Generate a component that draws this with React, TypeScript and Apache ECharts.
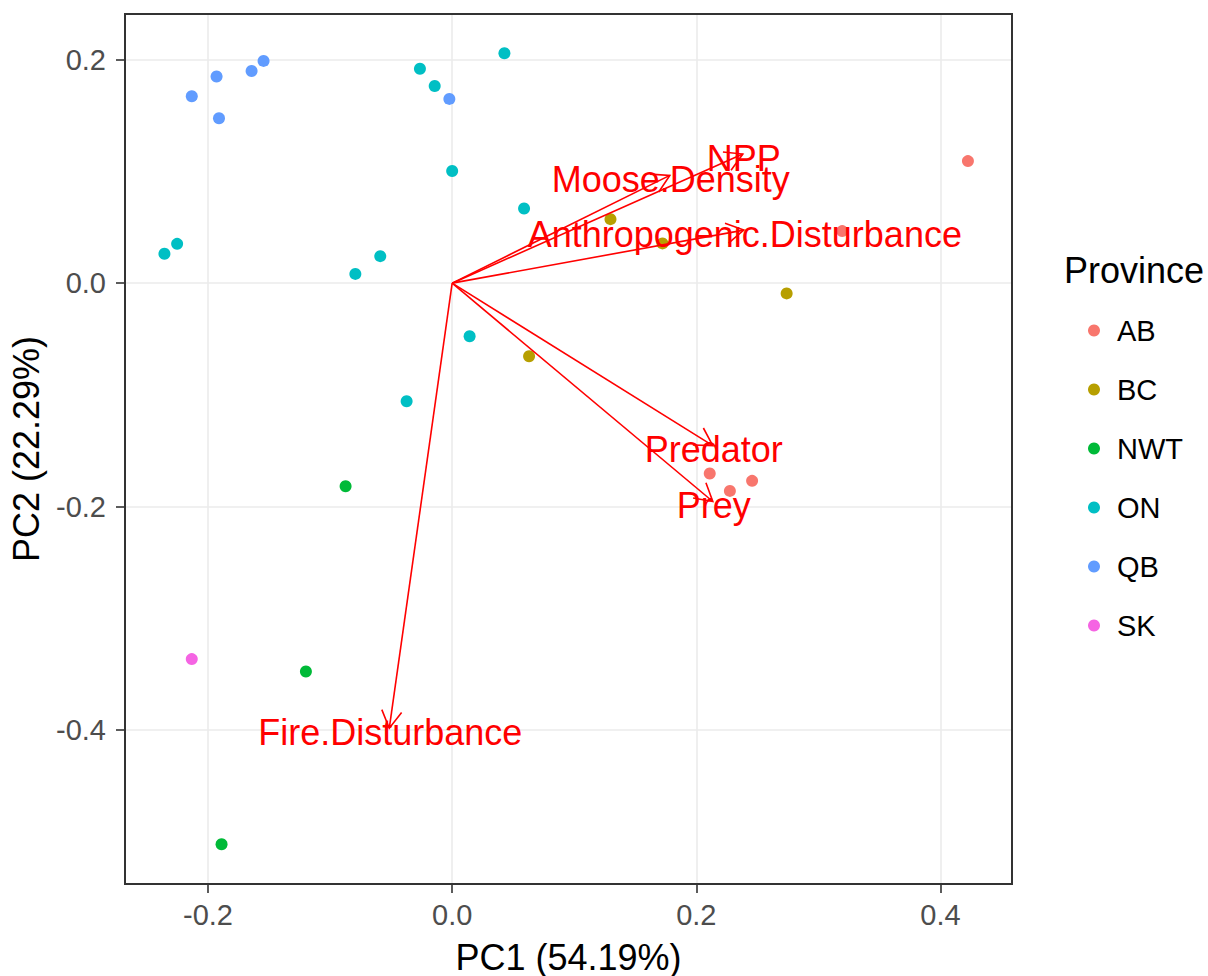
import React, { useEffect, useRef } from "react";
import * as echarts from "echarts";

// PCA scores (PC1, PC2) for each site, grouped by province
const provinces = ["AB", "BC", "NWT", "ON", "QB", "SK"];

const abScores = [
  [0.4225, 0.1093],
  [0.3195, 0.0466],
  [0.211, -0.1705],
  [0.2275, -0.186],
  [0.2457, -0.177],
];
const bcScores = [
  [0.1297, 0.0573],
  [0.1723, 0.0356],
  [0.274, -0.0092],
  [0.063, -0.0654],
];
const nwtScores = [
  [-0.0873, -0.1819],
  [-0.1198, -0.3477],
  [-0.1889, -0.5024],
];
const onScores = [
  [-0.0264, 0.192],
  [-0.0143, 0.1765],
  [0.0428, 0.2058],
  [0.0, 0.1004],
  [-0.2357, 0.0263],
  [-0.2253, 0.0352],
  [-0.0793, 0.0083],
  [-0.0589, 0.0242],
  [0.0589, 0.0669],
  [0.0143, -0.0475],
  [-0.0373, -0.1057],
];
const qbScores = [
  [-0.2133, 0.1673],
  [-0.193, 0.185],
  [-0.191, 0.1476],
  [-0.1643, 0.19],
  [-0.1545, 0.199],
  [-0.0023, 0.165],
];
const skScores = [[-0.2133, -0.3366]];

const scoresByProvince = [abScores, bcScores, nwtScores, onScores, qbScores, skScores];

// Variable loadings (arrow tips)
const variableNames = [
  "NPP",
  "Moose.Density",
  "Anthropogenic.Disturbance",
  "Predator",
  "Prey",
  "Fire.Disturbance",
];
const loadingPC1 = [0.2381, 0.1783, 0.2389, 0.2135, 0.2135, -0.0515];
const loadingPC2 = [0.1156, 0.0965, 0.0475, -0.1455, -0.1955, -0.3985];

// Axis titles
const xTitle = "PC1 (54.19%)";
const yTitle = "PC2 (22.29%)";
const legendTitle = "Province";

// ggplot default hue palette
const palette = ["#F8766D", "#B79F00", "#00BA38", "#00BFC4", "#619CFF", "#F564E3"];

const FONT = '"Liberation Sans", Arial, Helvetica, sans-serif';

export default function App() {
  const ref = useRef<HTMLDivElement>(null);

  useEffect(() => {
    if (!ref.current) return;
    const chart = echarts.init(ref.current, undefined, { renderer: "svg" });

    const scatterSeries = provinces.map((p, i) => ({
      name: p,
      type: "scatter",
      data: scoresByProvince[i],
      symbol: "circle",
      symbolSize: 12,
      itemStyle: { color: palette[i], opacity: 1 },
      z: 2,
    }));

    const loadingData = variableNames.map((n, i) => [loadingPC1[i], loadingPC2[i], n]);

    const arrowSeries = {
      type: "custom",
      name: "loadings",
      coordinateSystem: "cartesian2d",
      data: loadingData,
      z: 3,
      silent: true,
      renderItem: (params: any, api: any) => {
        const o = api.coord([0, 0]);
        const t = api.coord([api.value(0), api.value(1)]);
        const ang = Math.atan2(t[1] - o[1], t[0] - o[0]);
        const L = 20;
        const a1 = ang + Math.PI - Math.PI / 6;
        const a2 = ang + Math.PI + Math.PI / 6;
        const p1 = [t[0] + L * Math.cos(a1), t[1] + L * Math.sin(a1)];
        const p2 = [t[0] + L * Math.cos(a2), t[1] + L * Math.sin(a2)];
        const lineStyle = { stroke: "#FF0000", lineWidth: 1.6, fill: null };
        return {
          type: "group",
          children: [
            {
              type: "line",
              shape: { x1: o[0], y1: o[1], x2: t[0], y2: t[1] },
              style: lineStyle,
            },
            {
              type: "polyline",
              shape: { points: [p1, t, p2] },
              style: lineStyle,
            },
            {
              type: "text",
              x: t[0] + 1,
              y: t[1] + 4,
              style: {
                text: String(api.value(2)),
                fill: "#FF0000",
                fontSize: 36,
                fontFamily: FONT,
                align: "center",
                verticalAlign: "middle",
              },
            },
          ],
        };
      },
    };

    const axisCommon = {
      splitNumber: 4,
      axisLine: { show: false, onZero: false },
      axisTick: { show: true, length: 9, lineStyle: { color: "#333333", width: 1.6 } },
      splitLine: { show: true, lineStyle: { color: "#EBEBEB", width: 1.6 } },
      nameLocation: "middle",
      nameTextStyle: { fontSize: 36, color: "#000000", fontFamily: FONT },
    };

    chart.setOption({
      animation: false,
      backgroundColor: "#FFFFFF",
      textStyle: { fontFamily: FONT },
      title: {
        text: legendTitle,
        left: 1064,
        top: 252,
        padding: 0,
        textStyle: { fontSize: 36, fontWeight: "normal", color: "#000000", fontFamily: FONT },
      },
      legend: {
        data: provinces,
        orient: "vertical",
        left: 1083,
        top: 311,
        itemWidth: 12,
        itemHeight: 12,
        itemGap: 30,
        icon: "circle",
        textStyle: { fontSize: 29, color: "#000000", fontFamily: FONT, padding: [0, 0, 0, 12] },
      },
      grid: {
        left: 125,
        right: 196,
        top: 14,
        bottom: 92,
        containLabel: false,
        outerBoundsMode: "none",
        show: true,
        borderColor: "#333333",
        borderWidth: 2,
        backgroundColor: "transparent",
        z: 4,
      },
      xAxis: {
        ...axisCommon,
        type: "value",
        min: -0.268,
        max: 0.4586,
        name: xTitle,
        nameGap: 55,
        axisLabel: {
          showMinLabel: false,
          showMaxLabel: false,
          margin: 16,
          fontSize: 29,
          color: "#4D4D4D",
          fontFamily: FONT,
          formatter: (v: number) => v.toFixed(1),
        },
      },
      yAxis: {
        ...axisCommon,
        type: "value",
        min: -0.538,
        max: 0.241,
        name: yTitle,
        nameGap: 81,
        axisLabel: {
          showMinLabel: false,
          showMaxLabel: false,
          margin: 19,
          fontSize: 29,
          color: "#4D4D4D",
          fontFamily: FONT,
          formatter: (v: number) => v.toFixed(1),
        },
      },
      series: [...scatterSeries, arrowSeries],
    });

    return () => chart.dispose();
  }, []);

  return (
    <div
      ref={ref}
      style={{ position: "fixed", left: 0, top: 0, width: 1208, height: 976, background: "#fff" }}
    />
  );
}
